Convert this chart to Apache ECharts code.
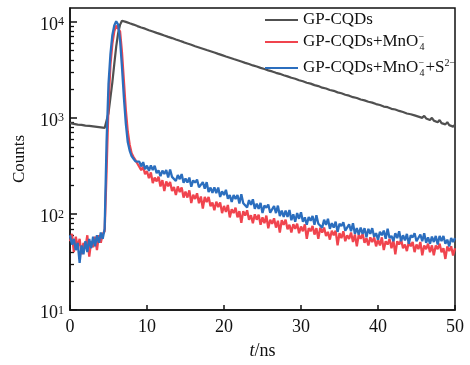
<!DOCTYPE html>
<html><head><meta charset="utf-8">
<script src="https://cdn.jsdelivr.net/npm/echarts@6/dist/echarts.min.js"></script>
<style>html,body{margin:0;padding:0;background:#fff}#c{width:470px;height:365px}</style>
</head><body><div id="c"></div>
<script>
// time step of the decay curves (ns)
const tStep = 0.25;
const seriesNames = ['GP-CQDs', 'GP-CQDs+MnO4-', 'GP-CQDs+MnO4-+S2-'];
const seriesColors = ['#505050', '#f0444e', '#2b6ebe'];

const grayCounts = [
880,855,865,845,850,835,845,825,830,815,825,805,815,795,805,790,795,775,785,
800,1120,1620,2340,3630,5500,7590,9330,10230,10140,
9960,9840,9640,
9530,9340,9230,9010, 8920,8720,8660,8470, 8390,8170,8110,7920, 7860,7660,7620,7430,
7380,7180,7150,6960, 6910,6760,6700,6540, 6490,6330,6290,6130, 6110,5930,5900,5760,
5740,5560,5550,5400, 5390,5240,5200,5080, 5060,4930,4880,4780, 4770,4630,4590,4490,
4480,4350,4330,4220, 4220,4090,4070,3970, 3970,3850,3830,3730, 3740,3630,3610,3510,
3530,3420,3400,3310, 3330,3220,3210,3120, 3140,3040,3020,2940, 2960,2870,2850,2770,
2790,2700,2690,2610, 2640,2550,2540,2460, 2490,2400,2400,2320, 2350,2270,2270,2190,
2220,2140,2150,2060, 2100,2020,2030,1950, 1990,1910,1920,1840, 1880,1800,1820,1740,
1780,1700,1720,1640, 1690,1610,1630,1550, 1600,1520,1540,1470, 1510,1440,1460,1390,
1440,1360,1390,1310, 1360,1290,1320,1240, 1290,1220,1250,1180, 1230,1150,1190,1110,
1160,1090,1130,1060, 1110,1030,1070,1000, 1050,985,1020,950, 1000,935,965,900,
950,880,920,855, 900,840,875,810, 845
];

const redCounts = [
52,62,40,58,45,55,38,50,44,60,36,52,45,58,42,60,50,62,66,
280,1410,3550,5890,7940,9120,9550,7940,4790,2400,1200,720,525,427,390,363,335,
328,286,310,259, 278,235,270,209, 239,218,244,193, 225,173,218,194, 215,173,190,157,
193,169,188,148, 171,148,176,130, 158,143,164,129, 152,114,150,133, 150,120,131,109,
134,118,132,102, 121,105,124,92, 112,102,116,92, 107,81,107,96, 109,87,97,80,
99,87,98,77, 92,80,96,71, 87,79,90,72, 85,64,86,77, 87,69,77,64,
78,70,79,63, 74,66,78,55, 71,66,75,61, 71,55,72,64, 72,59,65,54,
67,60,67,47, 63,56,66,52, 60,55,64,51, 61,46,61,55, 62,50,56,47,
57,51,57,46, 54,47,57,42, 52,48,55,44, 53,38,52,48, 54,44,48,41,
51,46,51,40, 48,43,51,37, 47,43,49,40, 47,37,47,43, 49,40,44,34,
46,41,46,37, 44
];

const blueCounts = [
60,48,55,42,50,31,47,38,52,40,55,44,58,46,60,50,64,55,70,
560,2240,4570,7240,9120,10100,9330,6460,3390,1620,870,560,457,400,375,352,356,
350,312,346,292, 318,280,319,287, 317,266,284,247, 282,261,287,239, 290,243,248,220,
254,230,260,211, 234,212,239,192, 223,212,228,189, 194,214,183,214, 169,188,166,189,
165,188,150,172, 157,178,144,157, 133,157,143,157, 128,160,129,134, 117,139,124,142,
113,128,113,130, 102,122,116,125, 103,108,121,102, 122,95,108,93, 108,93,110,86,
99,83,102,89, 104,83,92,77, 93,85,95,77, 97,79,82,72, 87,77,89,70,
80,72,83,65, 79,75,82,67, 70,78,66,80, 62,71,61,72, 62,71,57,70,
62,71,58,63, 54,65,60,67, 55,70,56,59, 52,63,56,66, 52,60,53,62,
49,60,57,63, 52,54,61,52, 63,50,57,49, 58,51,59,48, 59,52,59,49,
54,46,56,51, 56
];

const xTicks = [0, 10, 20, 30, 40, 50];
const yMajorTicks = [10, 100, 1000, 10000];
const yMinorTicks = [20,30,40,50,60,70,80,90,200,300,400,500,600,700,800,900,
  2000,3000,4000,5000,6000,7000,8000,9000];

const FONT = 'Liberation Serif';
const INK = '#111';
const toPairs = arr => arr.map((v, i) => [+(i * tStep).toFixed(2), v]);
const allCounts = [grayCounts, redCounts, blueCounts];

const legendRich = {
  sp: {fontFamily: FONT, fontSize: 10, lineHeight: 10, verticalAlign: 'top', width: 1, color: INK},
  sb: {fontFamily: FONT, fontSize: 10, lineHeight: 10, verticalAlign: 'bottom', width: 6, color: INK},
  sp2: {fontFamily: FONT, fontSize: 10, lineHeight: 10, verticalAlign: 'top', color: INK}
};
function legendFmt(name) {
  if (name === seriesNames[1]) return 'GP-CQDs+MnO{sp|−}{sb|4}';
  if (name === seriesNames[2]) return 'GP-CQDs+MnO{sp|−}{sb|4}+S{sp2|2−}';
  return name;
}
const legendTops = [10, 32, 58];

const chart = echarts.init(document.getElementById('c'), null, {renderer: 'canvas'});
chart.setOption({
  animation: false,
  backgroundColor: '#fff',
  grid: {left: 70, top: 8, width: 385, height: 308, show: true, borderColor: INK, borderWidth: 1.5},
  legend: seriesNames.map((n, k) => ({
    data: [{name: n, icon: 'rect'}],
    left: 265, top: legendTops[k], padding: 0,
    itemWidth: 33, itemHeight: 2, selectedMode: false,
    formatter: legendFmt,
    textStyle: {fontFamily: FONT, fontSize: 17, lineHeight: 20, color: INK, rich: legendRich}
  })),
  xAxis: {
    type: 'value', min: 0, max: 50, interval: 10,
    axisLine: {lineStyle: {color: INK, width: 1.5}},
    axisTick: {inside: true, length: 5, lineStyle: {color: INK, width: 1.5}, customValues: xTicks},
    axisLabel: {color: INK, fontSize: 18, fontFamily: FONT, margin: 8, customValues: xTicks},
    splitLine: {show: false},
    name: '{i|t}/ns', nameLocation: 'middle', nameGap: 32,
    nameTextStyle: {fontSize: 18, fontFamily: FONT, color: INK,
      rich: {i: {fontStyle: 'italic', fontSize: 18, fontFamily: FONT, color: INK}}}
  },
  yAxis: [{
    type: 'log', logBase: 10, min: 10, max: 13900, position: 'left',
    axisLine: {lineStyle: {color: INK, width: 1.5}},
    axisTick: {inside: true, length: 7, lineStyle: {color: INK, width: 1.5}, customValues: yMajorTicks},
    axisLabel: {
      customValues: yMajorTicks, margin: 6, padding: [7, 0, 0, 0],
      formatter: v => '{b|10}{s|' + Math.round(Math.log10(v)) + '}',
      rich: {
        b: {fontFamily: FONT, fontSize: 18, lineHeight: 18, verticalAlign: 'bottom', color: INK},
        s: {fontFamily: FONT, fontSize: 12, lineHeight: 12, verticalAlign: 'top', color: INK}
      }
    },
    splitLine: {show: false},
    name: 'Counts', nameLocation: 'middle', nameGap: 42,
    nameTextStyle: {fontSize: 17, fontFamily: FONT, color: INK}
  }, {
    type: 'log', logBase: 10, min: 10, max: 13900, position: 'left', offset: 0,
    axisLine: {show: false},
    axisTick: {inside: true, length: 4, lineStyle: {color: INK, width: 1.3}, customValues: yMinorTicks},
    axisLabel: {show: false},
    splitLine: {show: false}
  }],
  series: seriesNames.map((n, k) => ({
    name: n, type: 'line', yAxisIndex: 0,
    data: toPairs(allCounts[k]),
    showSymbol: false, symbol: 'none',
    color: seriesColors[k],
    itemStyle: {color: seriesColors[k]},
    lineStyle: {color: seriesColors[k], width: k === 0 ? 2.2 : 2.3},
    z: 2 + k
  }))
});
</script>
</body></html>
